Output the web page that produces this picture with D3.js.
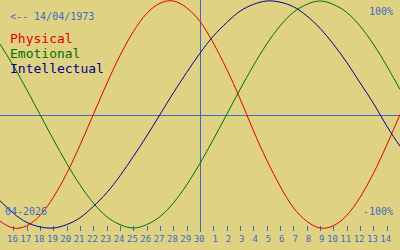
<!DOCTYPE html>
<html>
<head>
<meta charset="utf-8">
<script src="https://cdn.jsdelivr.net/npm/d3@7"></script>
<style>
  html, body { margin: 0; padding: 0; background: #e0d283; }
  svg { display: block; }
  text { font-family: "DejaVu Sans Mono", monospace; }
</style>
</head>
<body>
<div id="chart"></div>
<script>
// days shown, 15 April .. 15 May, today = 30
var days = [15, 16, 17, 18, 19, 20, 21, 22, 23, 24, 25, 26, 27, 28, 29, 30,
            1, 2, 3, 4, 5, 6, 7, 8, 9, 10, 11, 12, 13, 14, 15];
var todayIndex = 15;

// values in percent for each day
var physical = [-94, -100, -98, -89, -73, -52, -27, 0, 27, 52, 73, 89, 98, 100, 94, 82,
                63, 40, 14, -14, -40, -63, -82, -94, -100, -98, -89, -73, -52, -27, 0];
var emotional = [62, 43, 22, 0, -22, -43, -62, -78, -90, -97, -100, -97, -90, -78, -62, -43,
                 -22, 0, 22, 43, 62, 78, 90, 97, 100, 97, 90, 78, 62, 43, 22];
var intellectual = [-76, -87, -95, -99, -100, -97, -91, -81, -69, -54, -37, -19, 0, 19, 37, 54,
                    69, 81, 91, 97, 100, 99, 95, 87, 76, 62, 46, 28, 10, -10, -28];

var seriesNames = ['Physical', 'Emotional', 'Intellectual'];
var seriesColors = ['#e00000', '#007000', '#000090'];
var birthLabel = '<-- 14/04/1973';
var monthLabel = '04-2026';
var maxLabel = '100%';
var minLabel = '-100%';

var width = 400, height = 250;
var axisBlue = '#3a6cc4';

var svg = d3.select('#chart').append('svg')
  .attr('width', width)
  .attr('height', height);

svg.append('rect')
  .attr('width', width)
  .attr('height', height)
  .attr('fill', '#e0d283');

var x = d3.scaleLinear().domain([0, days.length - 1]).range([0, width]);
var y = d3.scaleLinear().domain([-100, 100]).range([228, 1]);

// axes lines
svg.append('line')
  .attr('x1', 0).attr('x2', width)
  .attr('y1', 115.5).attr('y2', 115.5)
  .attr('stroke', axisBlue)
  .attr('stroke-width', 1)
  .attr('shape-rendering', 'crispEdges');

svg.append('line')
  .attr('x1', Math.round(x(todayIndex)) + 0.5).attr('x2', Math.round(x(todayIndex)) + 0.5)
  .attr('y1', 0).attr('y2', 232)
  .attr('stroke', axisBlue)
  .attr('stroke-width', 1)
  .attr('shape-rendering', 'crispEdges');

// ticks and day labels
var tickIdx = d3.range(1, days.length - 1);
svg.selectAll('.tick')
  .data(tickIdx)
  .enter()
  .append('line')
  .attr('class', 'tick')
  .attr('x1', function(d) { return Math.round(x(d)) + 0.5; })
  .attr('x2', function(d) { return Math.round(x(d)) + 0.5; })
  .attr('y1', 226)
  .attr('y2', 231)
  .attr('stroke', axisBlue)
  .attr('stroke-width', 1)
  .attr('shape-rendering', 'crispEdges');

svg.selectAll('.daylabel')
  .data(tickIdx)
  .enter()
  .append('text')
  .attr('class', 'daylabel')
  .attr('x', function(d) { return x(d) + 4.5; })
  .attr('y', 242)
  .attr('text-anchor', 'end')
  .attr('font-size', '9px')
  .attr('fill', axisBlue)
  .text(function(d) { return days[d]; });

// curves
var line = d3.line()
  .x(function(d, i) { return x(i); })
  .y(function(d) { return y(d); })
  .curve(d3.curveNatural);

[physical, emotional, intellectual].forEach(function(s, k) {
  svg.append('path')
    .datum(s)
    .attr('d', line)
    .attr('fill', 'none')
    .attr('stroke', seriesColors[k])
    .attr('stroke-width', 1);
});

// texts
svg.append('text')
  .attr('x', 10).attr('y', 20)
  .attr('font-size', '10px')
  .attr('fill', axisBlue)
  .text(birthLabel);

svg.selectAll('.legend')
  .data(seriesNames)
  .enter()
  .append('text')
  .attr('class', 'legend')
  .attr('x', 10)
  .attr('y', function(d, i) { return 43 + i * 15; })
  .attr('font-size', '13px')
  .attr('fill', function(d, i) { return seriesColors[i]; })
  .text(function(d) { return d; });

svg.append('text')
  .attr('x', 393).attr('y', 15)
  .attr('text-anchor', 'end')
  .attr('font-size', '10px')
  .attr('fill', axisBlue)
  .text(maxLabel);

svg.append('text')
  .attr('x', 393).attr('y', 215)
  .attr('text-anchor', 'end')
  .attr('font-size', '10px')
  .attr('fill', axisBlue)
  .text(minLabel);

svg.append('text')
  .attr('x', 5).attr('y', 215)
  .attr('font-size', '10px')
  .attr('fill', axisBlue)
  .text(monthLabel);
</script>
</body>
</html>
